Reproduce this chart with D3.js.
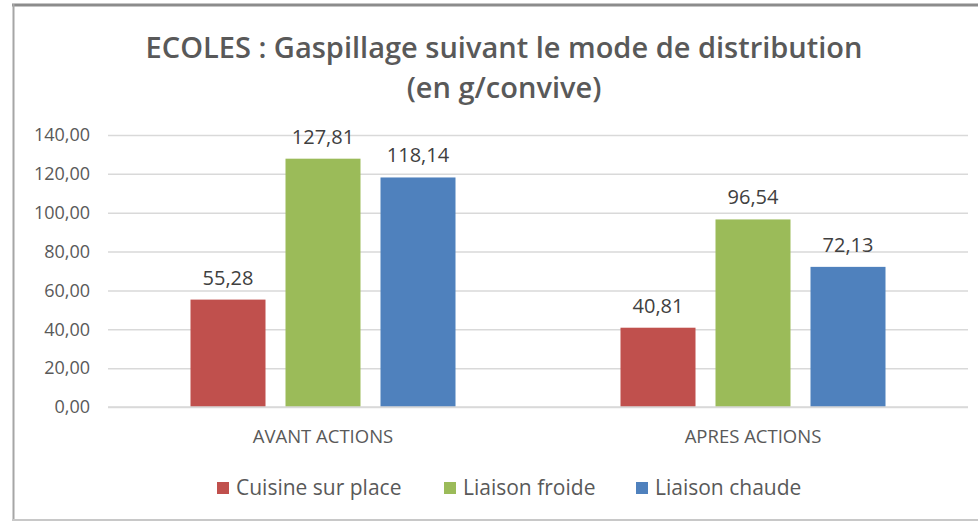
<!DOCTYPE html>
<html><head><meta charset="utf-8">
<script src="https://cdn.jsdelivr.net/npm/d3@7"></script>
<style>body{margin:0;background:#fff}svg{display:block}text{font-family:"Open Sans",Lato,sans-serif}</style>
</head><body>
<svg id="c" width="978" height="522"></svg>
<script>
const titleLines = ["ECOLES : Gaspillage suivant le mode de distribution", "(en g/convive)"];
const categories = ["AVANT ACTIONS", "APRES ACTIONS"];
const seriesNames = ["Cuisine sur place", "Liaison froide", "Liaison chaude"];
const cuisineSurPlace = [55.28, 40.81];
const liaisonFroide = [127.81, 96.54];
const liaisonChaude = [118.14, 72.13];
const yTicks = [0, 20, 40, 60, 80, 100, 120, 140];
const colors = ["#C0504D", "#9BBB59", "#4F81BD"];

const series = [cuisineSurPlace, liaisonFroide, liaisonChaude];
const svg = d3.select("#c");
const fmt = v => d3.format(".2f")(v).replace(".", ",");

// frame
svg.append("rect").attr("x", 0).attr("y", 0).attr("width", 978).attr("height", 522).attr("fill", "#fff");
svg.append("line").attr("x1", 12).attr("x2", 978).attr("y1", 5).attr("y2", 5).attr("stroke", "#8c8c8c").attr("stroke-width", 3);
svg.append("line").attr("x1", 13.5).attr("x2", 13.5).attr("y1", 4).attr("y2", 521).attr("stroke", "#a6a6a6").attr("stroke-width", 2);
svg.append("line").attr("x1", 12).attr("x2", 978).attr("y1", 520).attr("y2", 520).attr("stroke", "#c8c8c8").attr("stroke-width", 2);

// title
svg.selectAll("text.title").data(titleLines).enter().append("text")
  .attr("class", "title").attr("x", 504).attr("y", (d, i) => 58 + i * 40)
  .attr("text-anchor", "middle").attr("font-size", 29).attr("font-weight", 600)
  .attr("fill", "#595959").text(d => d);

const plotL = 108, plotR = 968, plotT = 135, plotB = 407;
const x0 = d3.scaleBand().domain(categories).range([plotL, plotR]).paddingInner(0).paddingOuter(0);
const groupW = 265;
const x1 = d3.scaleBand().domain(d3.range(3)).range([0, groupW]).paddingInner(20 / 95).paddingOuter(0);
const y = d3.scaleLinear().domain([0, 140]).range([plotB, plotT]);

// gridlines
const yAxis = d3.axisLeft(y).tickValues(yTicks).tickFormat(fmt).tickSize(-(plotR - plotL)).tickPadding(18);
const ga = svg.append("g").attr("transform", `translate(${plotL},0)`).call(yAxis);
ga.select(".domain").remove();
ga.selectAll(".tick line").attr("stroke", "#d9d9d9").attr("stroke-width", 1.5);
ga.selectAll(".tick text").attr("fill", "#595959").attr("font-size", 18).attr("font-family", "Lato");

// bars
const groups = svg.selectAll("g.grp").data(categories).enter().append("g")
  .attr("transform", d => `translate(${x0(d) + (x0.bandwidth() - groupW) / 2},0)`);
groups.each(function(cat, ci) {
  const g = d3.select(this);
  series.forEach((s, si) => {
    g.append("rect").attr("x", x1(si)).attr("y", y(s[ci])).attr("width", x1.bandwidth())
      .attr("height", y(0) - y(s[ci])).attr("fill", colors[si]);
    g.append("text").attr("x", x1(si) + x1.bandwidth() / 2).attr("y", y(s[ci]) - 15)
      .attr("text-anchor", "middle").attr("font-size", 20).attr("font-family", "Lato")
      .attr("fill", "#404040").text(fmt(s[ci]));
  });
});

// x axis baseline + labels
svg.append("line").attr("x1", plotL).attr("x2", plotR).attr("y1", plotB).attr("y2", plotB).attr("stroke", "#d9d9d9").attr("stroke-width", 1.5);
svg.selectAll("text.cat").data(categories).enter().append("text")
  .attr("x", d => x0(d) + x0.bandwidth() / 2).attr("y", 443).attr("text-anchor", "middle")
  .attr("font-size", 18.5).attr("fill", "#595959").text(d => d);

// legend
const legX = [217, 444, 636];
const lg = svg.selectAll("g.leg").data(seriesNames).enter().append("g")
  .attr("transform", (d, i) => `translate(${legX[i]},0)`);
lg.append("rect").attr("x", 0).attr("y", 482).attr("width", 12).attr("height", 12).attr("fill", (d, i) => colors[i]);
lg.append("text").attr("x", 19).attr("y", 495).attr("font-size", 21).attr("fill", "#595959").text(d => d);
</script>
</body></html>
